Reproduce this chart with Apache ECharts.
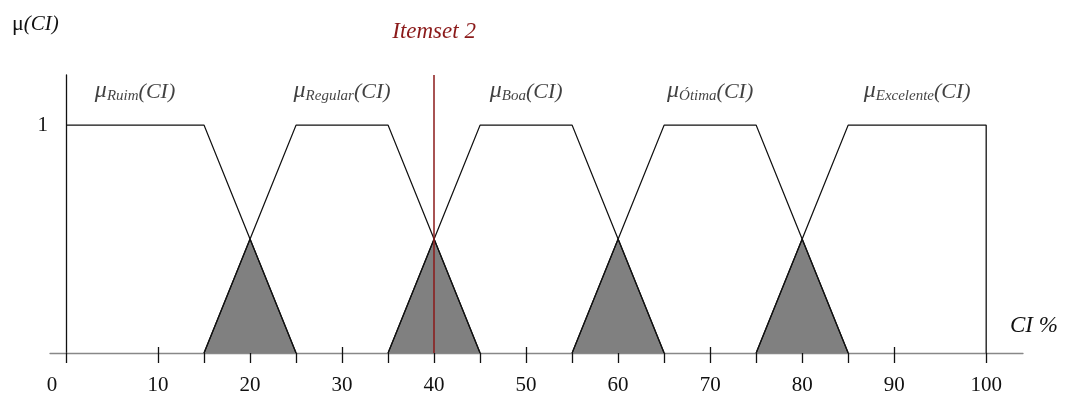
<!DOCTYPE html>
<html>
<head>
<meta charset="utf-8">
<script src="https://cdn.jsdelivr.net/npm/echarts@6/dist/echarts.min.js"></script>
<style>
  html, body { margin: 0; padding: 0; background: #fff; }
  #chart { width: 1069px; height: 396px; }
</style>
</head>
<body>
<div id="chart"></div>
<script>
// membership functions (x = CI %, y = mu)
const ruim = [[0, 1], [15, 1], [25, 0]]
const regular = [[15, 0], [25, 1], [35, 1], [45, 0]]
const boa = [[35, 0], [45, 1], [55, 1], [65, 0]]
const otima = [[55, 0], [65, 1], [75, 1], [85, 0]]
const excelente = [[75, 0], [85, 1], [100, 1], [100, 0]]
const setNames = ['Ruim', 'Regular', 'Boa', 'Ótima', 'Excelente']

// shaded overlaps
const overlap20 = [[15, 0], [20, 0.5], [25, 0]]
const overlap40 = [[35, 0], [40, 0.5], [45, 0]]
const overlap60 = [[55, 0], [60, 0.5], [65, 0]]
const overlap80 = [[75, 0], [80, 0.5], [85, 0]]

const xLabels = [0, 10, 20, 30, 40, 50, 60, 70, 80, 90, 100]
const xMinorTicks = [15, 25, 35, 45, 55, 65, 75, 85]
const itemsetX = 40

const serif = '"Liberation Serif", "DejaVu Serif", serif'
const sets = [ruim, regular, boa, otima, excelente]

// label sits over the middle of the flat top
const labelPoints = sets.map((pts, i) => {
  let top = pts.filter(p => p[1] === 1)
  let cx = (top[0][0] + top[top.length - 1][0]) / 2
  return { value: [cx, 1], name: setNames[i] }
})

const myChart = echarts.init(document.getElementById('chart'))

const series = []
;[overlap20, overlap40, overlap60, overlap80].forEach(tri => {
  series.push({
    type: 'line',
    data: tri,
    symbol: 'none',
    lineStyle: { color: '#111', width: 1.2 },
    areaStyle: { color: '#808080', opacity: 1 },
    silent: true
  })
})
sets.forEach(pts => {
  series.push({
    type: 'line',
    data: pts,
    symbol: 'none',
    lineStyle: { color: '#111', width: 1.3 },
    silent: true
  })
})
series.push({
  type: 'scatter',
  data: labelPoints,
  symbolSize: 0,
  silent: true,
  label: {
    show: true,
    position: 'top',
    distance: 22,
    formatter: p => `{m|μ}{s|${p.name}}{c|(CI)}`,
    rich: {
      m: { fontFamily: serif, fontStyle: 'italic', fontSize: 24, color: '#111', verticalAlign: 'bottom', lineHeight: 27 },
      s: { fontFamily: serif, fontStyle: 'italic', fontSize: 15, color: '#111', verticalAlign: 'bottom', lineHeight: 23 },
      c: { fontFamily: serif, fontStyle: 'italic', fontSize: 22, color: '#111', verticalAlign: 'bottom', lineHeight: 27 }
    }
  },
  markLine: {
    symbol: ['none', 'none'],
    silent: true,
    lineStyle: { color: '#8b1a1a', width: 1.5, type: 'solid' },
    label: {
      show: true,
      position: 'end',
      distance: 32,
      formatter: 'Itemset 2',
      fontFamily: serif,
      fontStyle: 'italic',
      fontSize: 23,
      color: '#8b1a1a'
    },
    data: [{ xAxis: itemsetX }]
  }
})

myChart.setOption({
  animation: false,
  backgroundColor: '#fff',
  grid: { left: 50, right: 46, top: 75, bottom: 43 },
  xAxis: [{
    type: 'value',
    min: -1.74,
    max: 104,
    splitLine: { show: false },
    axisLine: { show: true, onZero: false, lineStyle: { color: '#888', width: 1.3 } },
    axisTick: {
      show: true,
      inside: false,
      length: 10,
      customValues: xLabels.concat(xMinorTicks),
      lineStyle: { color: '#111', width: 1.3 }
    },
    axisLabel: {
      show: true,
      margin: 22,
      customValues: xLabels,
      fontFamily: serif,
      fontSize: 21,
      color: '#111',
      formatter: v => v === 0 ? '{z|0}' : String(v),
      rich: { z: { fontFamily: serif, fontSize: 21, color: '#111', padding: [0, 28, 0, 0] } }
    }
  }, {
    type: 'value',
    position: 'bottom',
    min: -1.74,
    max: 104,
    splitLine: { show: false },
    axisLine: { show: false },
    axisTick: {
      show: true,
      inside: true,
      length: 6,
      customValues: xLabels.slice(1, -1),
      lineStyle: { color: '#111', width: 1.3 }
    },
    axisLabel: { show: false }
  }],
  yAxis: {
    type: 'value',
    min: 0,
    max: 1.22,
    splitLine: { show: false },
    axisLine: { show: true, onZero: true, lineStyle: { color: '#111', width: 1.3 } },
    axisTick: { show: false },
    axisLabel: {
      show: true,
      customValues: [1],
      margin: 2,
      fontFamily: serif,
      fontSize: 21,
      color: '#111'
    }
  },
  graphic: [{
    type: 'text',
    left: 12,
    top: 13,
    style: {
      text: '{u|μ}{i|(CI)}',
      rich: {
        u: { fontFamily: serif, fontSize: 22, fill: '#111' },
        i: { fontFamily: serif, fontStyle: 'italic', fontSize: 21, fill: '#111' }
      }
    }
  }, {
    type: 'text',
    left: 1010,
    top: 314,
    style: { text: 'CI %', fontFamily: serif, fontStyle: 'italic', fontSize: 23, fill: '#111' }
  }],
  series
})
</script>
</body>
</html>
